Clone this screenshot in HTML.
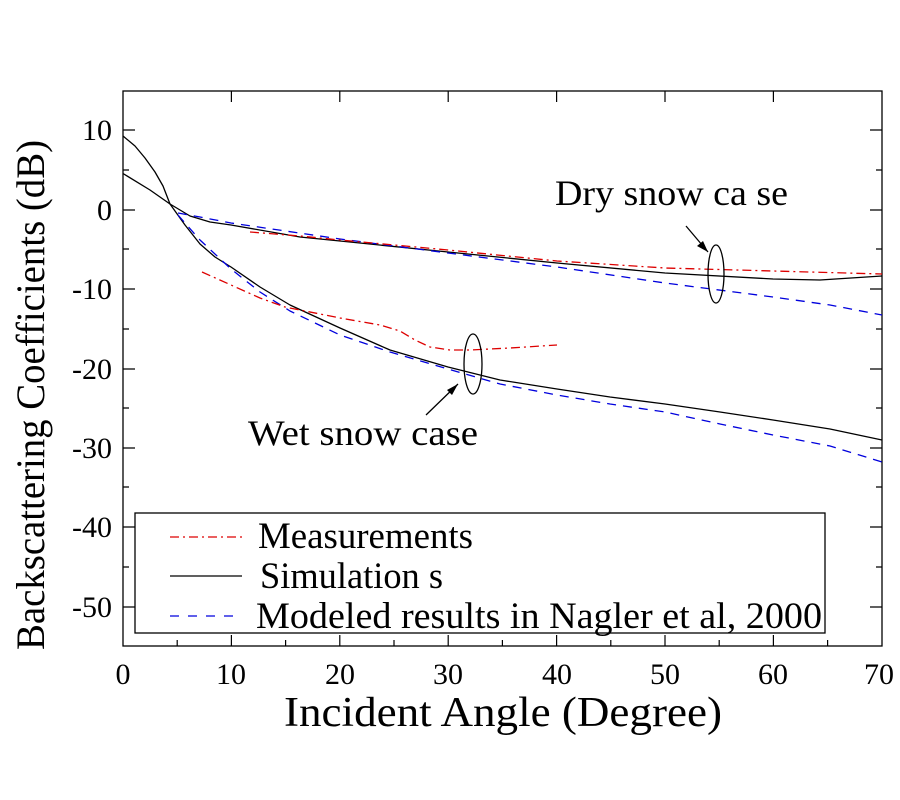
<!DOCTYPE html>
<html><head><style>body{margin:0;background:#fff}svg{display:block}</style></head><body>
<svg width="900" height="800" viewBox="0 0 900 800" xmlns="http://www.w3.org/2000/svg" font-family="Liberation Serif, serif">
<rect width="900" height="800" fill="#fff"/>
<g stroke="#000" stroke-width="1.3" fill="none">
<rect x="123" y="91" width="759" height="555"/>
</g>
<g stroke="#000" stroke-width="1.2">
<path d="M123,130h12M123,210h12M123,289h12M123,369h12M123,448h12M123,527h12M123,607h12
M123,170h6M123,249h6M123,329h6M123,408h6M123,487h6M123,567h6
M882,130h-12M882,210h-12M882,289h-12M882,369h-12M882,448h-12M882,527h-12M882,607h-12
M882,170h-6M882,249h-6M882,329h-6M882,408h-6M882,487h-6M882,567h-6
M231.4,646v-11M339.8,646v-11M448.2,646v-11M556.6,646v-11M665,646v-11M773.4,646v-11
M177.2,646v-6M285.6,646v-6M394,646v-6M502.4,646v-6M610.8,646v-6M719.2,646v-6M827.6,646v-6
M231.4,91v11M339.8,91v11M448.2,91v11M556.6,91v11M665,91v11M773.4,91v11"/>
</g>
<g font-size="30" text-anchor="end">
<text x="112" y="140">10</text><text x="112" y="220">0</text><text x="112" y="299">-10</text><text x="112" y="379">-20</text><text x="112" y="458">-30</text><text x="112" y="537">-40</text><text x="112" y="617">-50</text>
</g>
<g font-size="30" text-anchor="middle">
<text x="123" y="684">0</text><text x="231" y="684">10</text><text x="340" y="684">20</text><text x="448" y="684">30</text><text x="557" y="684">40</text><text x="665" y="684">50</text><text x="773" y="684">60</text><text x="879" y="684">70</text>
</g>
<text x="284" y="726" font-size="42" textLength="438" lengthAdjust="spacingAndGlyphs">Incident  Angle (Degree)</text>
<text transform="translate(44,650) rotate(-90)" font-size="40" textLength="510" lengthAdjust="spacingAndGlyphs">Backscattering Coefficients (dB)</text>
<g fill="none" stroke-width="1.3" stroke-linejoin="round">
<polyline stroke="#000" points="123,136 135,146 145,158 155,172 163,186 170,204 185,225 200,244 215,257 231,267 260,287 290,305 340,328 390,350 448,367 500,380 557,389 610,397 665,404 720,412 773,420 830,429 882,440"/>
<polyline stroke="#000" points="123,173.5 150,190 170,204 190,216 210,222 231,225 300,237 340,241 448,252 557,263 665,273 773,279 820,280 882,276"/>
<polyline stroke="#0000dd" stroke-dasharray="9,7" points="178,213 200,217 231,223 340,239 448,253 557,267 665,283 773,297 830,305 882,315"/>
<polyline stroke="#0000dd" stroke-dasharray="9,7" points="178,215 200,240 231,269 260,292 290,311 340,335 390,352 448,369 500,384 557,395 610,404 665,412 720,424 773,435 830,446 882,462"/>
<polyline stroke="#dd0000" stroke-dasharray="9,4,2,4" points="250,232 300,236 340,240 448,250 557,261 665,268 773,271 882,274"/>
<polyline stroke="#dd0000" stroke-dasharray="9,4,2,4" points="202,272 231,285 260,298 285,307 340,318 380,325 400,331 415,340 430,347 450,350 470,350 510,348 557,345"/>
</g>
<g stroke="#000" stroke-width="1.3" fill="none">
<ellipse cx="716" cy="274" rx="8" ry="29"/>
<ellipse cx="473" cy="364" rx="9" ry="30"/>
<path d="M686,226 L708,252"/><path d="M426,415 L458,384"/>
</g>
<path d="M708,252 L697,246 L703,241Z M458,384 L452,395 L447,390Z" fill="#000"/>
<text x="555" y="205" font-size="36" textLength="233" lengthAdjust="spacingAndGlyphs">Dry  snow ca se</text>
<text x="248" y="445" font-size="36" textLength="230" lengthAdjust="spacingAndGlyphs">Wet snow case</text>
<rect x="135" y="513" width="690" height="120" fill="#fff" stroke="#000" stroke-width="1.3"/>
<path d="M170,537h72" stroke="#dd0000" stroke-width="1.3" stroke-dasharray="9,4,2,4"/>
<path d="M170,576h72" stroke="#000" stroke-width="1.3"/>
<path d="M170,616h72" stroke="#0000dd" stroke-width="1.3" stroke-dasharray="9,9"/>
<g font-size="37">
<text x="258" y="548" textLength="215" lengthAdjust="spacingAndGlyphs">Measurements</text>
<text x="260" y="588" textLength="183" lengthAdjust="spacingAndGlyphs">Simulation s</text>
<text x="256" y="628" textLength="566" lengthAdjust="spacingAndGlyphs">Modeled results in Nagler et al, 2000</text>
</g>
</svg>
</body></html>
